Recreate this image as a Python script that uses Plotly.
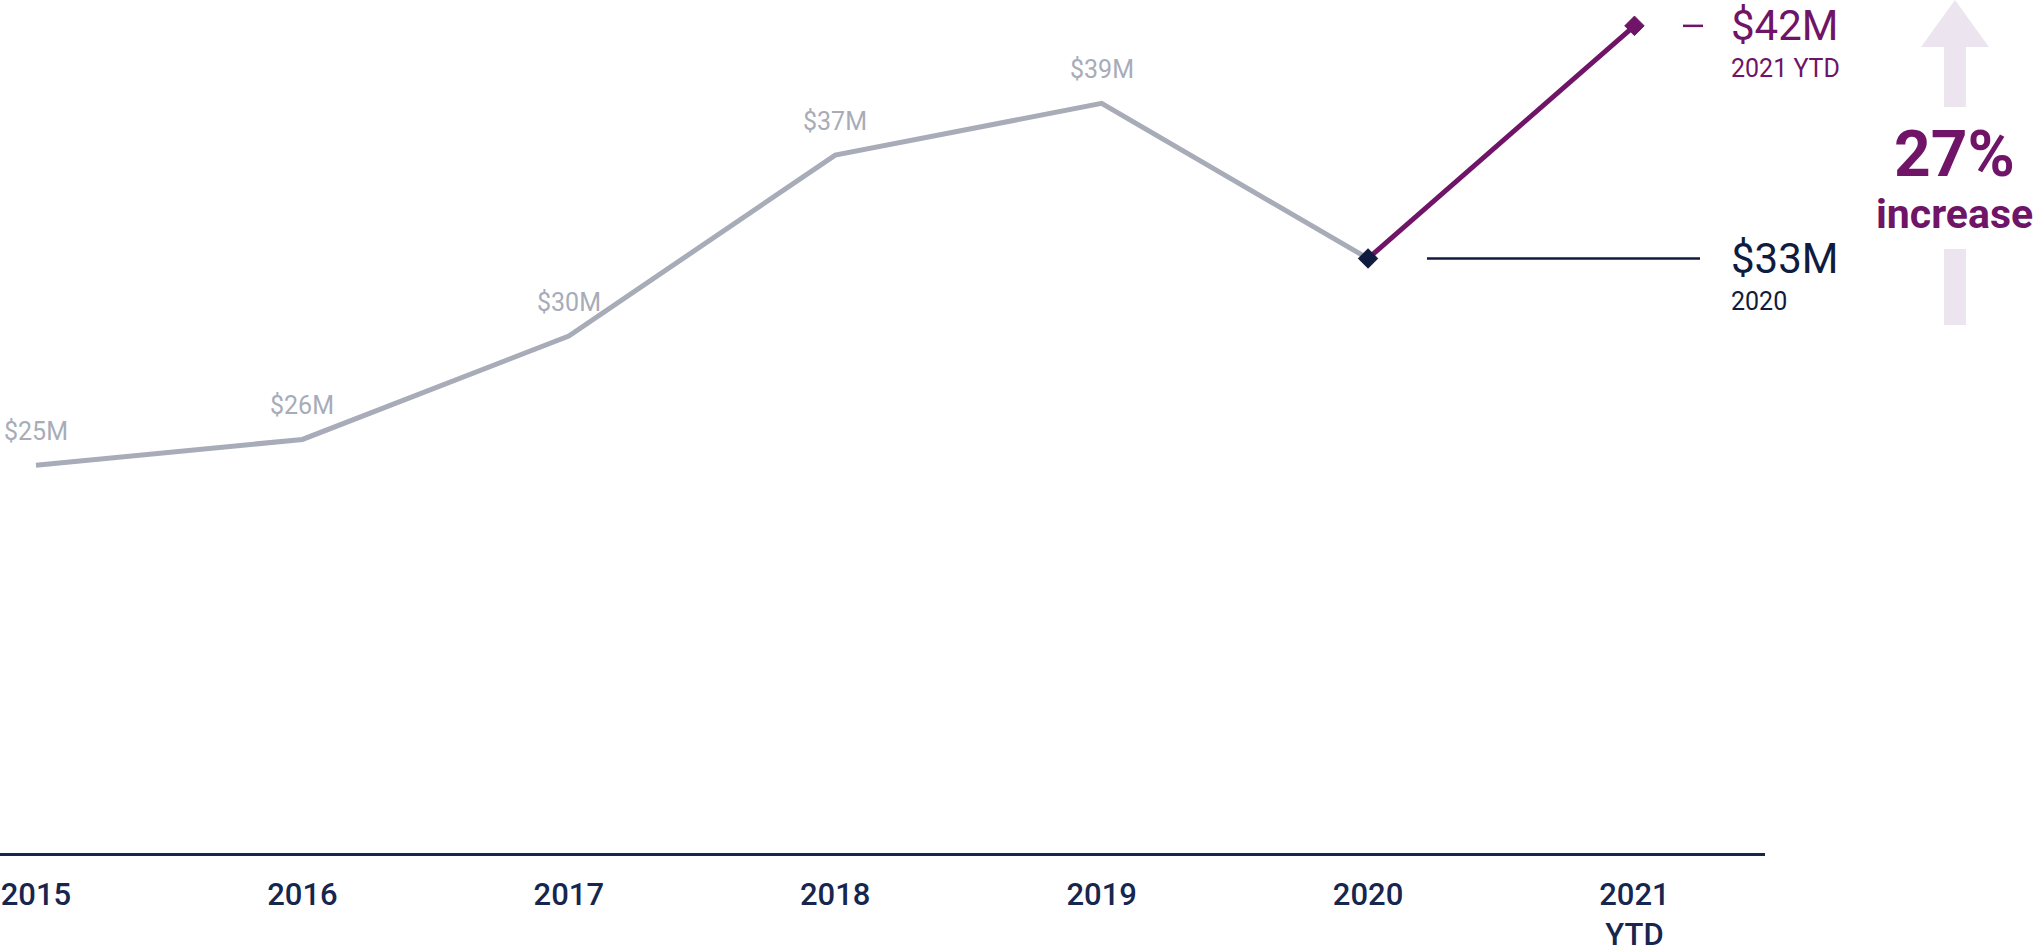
import plotly.graph_objects as go

# ---- data ----
years = ["2015", "2016", "2017", "2018", "2019", "2020", "2021"]
tick_text = ["2015", "2016", "2017", "2018", "2019", "2020", "2021<br>YTD"]
revenue = [25, 26, 30, 37, 39, 33, 42]          # $M
value_labels = ["$25M", "$26M", "$30M", "$37M", "$39M", "$33M", "$42M"]
sub_labels = ["2020", "2021 YTD"]
growth_pct = "27%"
growth_word = "increase"

GRAY = "#a8acb8"
PURPLE = "#6f1466"
NAVY = "#0f1c40"
AXIS_NAVY = "#17264f"
LAVENDER = "#ece5f0"
FONT = "Roboto"

W, H = 2038, 945
PLOT_R = 1765          # plot area right edge (px)
PLOT_B = 853           # plot area bottom (px)

def px(xp):
    return xp / PLOT_R

def py(yp):
    return (PLOT_B - yp) / PLOT_B

fig = go.Figure()

# historical line
fig.add_trace(go.Scatter(
    x=list(range(6)), y=revenue[:6], mode="lines",
    line=dict(color=GRAY, width=5), hoverinfo="skip", showlegend=False))
# growth line
fig.add_trace(go.Scatter(
    x=[5, 6], y=revenue[5:7], mode="lines",
    line=dict(color=PURPLE, width=5), hoverinfo="skip", showlegend=False))
# markers
fig.add_trace(go.Scatter(
    x=[5], y=[revenue[5]], mode="markers",
    marker=dict(symbol="diamond", size=15, color=NAVY,
                line=dict(width=1, color=NAVY)),
    hoverinfo="skip", showlegend=False))
fig.add_trace(go.Scatter(
    x=[6], y=[revenue[6]], mode="markers",
    marker=dict(symbol="diamond", size=15, color=PURPLE,
                line=dict(width=1, color=PURPLE)),
    hoverinfo="skip", showlegend=False))

annotations = []
for i in range(5):
    annotations.append(dict(
        x=i, y=revenue[i], xref="x", yref="y", text=value_labels[i],
        showarrow=False, xanchor="center", yanchor="middle", yshift=34,
        font=dict(family=FONT, size=25, color=GRAY)))

# right-side callouts
annotations += [
    dict(x=px(1729), y=revenue[6], xref="paper", yref="y", text=value_labels[6],
         showarrow=False, xanchor="left", yanchor="middle", yshift=0,
         font=dict(family=FONT, size=42, color=PURPLE)),
    dict(x=px(1729), y=revenue[6], xref="paper", yref="y", text=sub_labels[1],
         showarrow=False, xanchor="left", yanchor="middle", yshift=-43,
         font=dict(family=FONT, size=25, color=PURPLE)),
    dict(x=px(1729), y=revenue[5], xref="paper", yref="y", text=value_labels[5],
         showarrow=False, xanchor="left", yanchor="middle", yshift=0,
         font=dict(family=FONT, size=42, color=NAVY)),
    dict(x=px(1729), y=revenue[5], xref="paper", yref="y", text=sub_labels[0],
         showarrow=False, xanchor="left", yanchor="middle", yshift=-43,
         font=dict(family=FONT, size=25, color=NAVY)),
    dict(x=px(1955), y=py(154), xref="paper", yref="paper", text=growth_pct,
         showarrow=False, xanchor="center", yanchor="middle",
         font=dict(family=FONT, size=64, color=PURPLE, weight="bold")),
    dict(x=px(1955), y=py(214), xref="paper", yref="paper", text=growth_word,
         showarrow=False, xanchor="center", yanchor="middle",
         font=dict(family=FONT, size=41, color=PURPLE, weight="bold")),
]

shapes = [
    # connector line at 2020 value
    dict(type="line", xref="paper", yref="y", x0=px(1427), x1=px(1700),
         y0=revenue[5], y1=revenue[5], line=dict(color=NAVY, width=2.5)),
    # short dash at 2021 value
    dict(type="line", xref="paper", yref="y", x0=px(1683), x1=px(1703),
         y0=revenue[6], y1=revenue[6], line=dict(color=PURPLE, width=2.5)),
    # arrow head
    dict(type="path", xref="paper", yref="paper",
         path=f"M {px(1921)},{py(47)} L {px(1955)},{py(0)} L {px(1989)},{py(47)} Z",
         fillcolor=LAVENDER, line=dict(width=0)),
    # arrow upper shaft
    dict(type="rect", xref="paper", yref="paper", x0=px(1944), x1=px(1966),
         y0=py(107), y1=py(46), fillcolor=LAVENDER, line=dict(width=0)),
    # arrow lower shaft
    dict(type="rect", xref="paper", yref="paper", x0=px(1944), x1=px(1966),
         y0=py(325), y1=py(249), fillcolor=LAVENDER, line=dict(width=0)),
]

fig.update_layout(
    width=W, height=H,
    margin=dict(l=0, r=W - PLOT_R, t=0, b=H - PLOT_B, pad=0, autoexpand=False),
    paper_bgcolor="white", plot_bgcolor="white",
    annotations=annotations, shapes=shapes,
    xaxis=dict(
        range=[-0.135, 6.49], automargin=False,
        tickmode="array", tickvals=list(range(7)), ticktext=tick_text,
        showgrid=False, zeroline=False,
        showline=True, linecolor=AXIS_NAVY, linewidth=2.5,
        ticks="outside", ticklen=12, tickcolor="rgba(0,0,0,0)",
        tickfont=dict(family=FONT, size=31, color=AXIS_NAVY, weight=500),
        fixedrange=True),
    yaxis=dict(range=[10, 43], visible=False, showgrid=False, zeroline=False,
               automargin=False, fixedrange=True),
)

fig.write_html("out.html", config={"displayModeBar": False},
               post_script="document.body.style.margin='0px';")
